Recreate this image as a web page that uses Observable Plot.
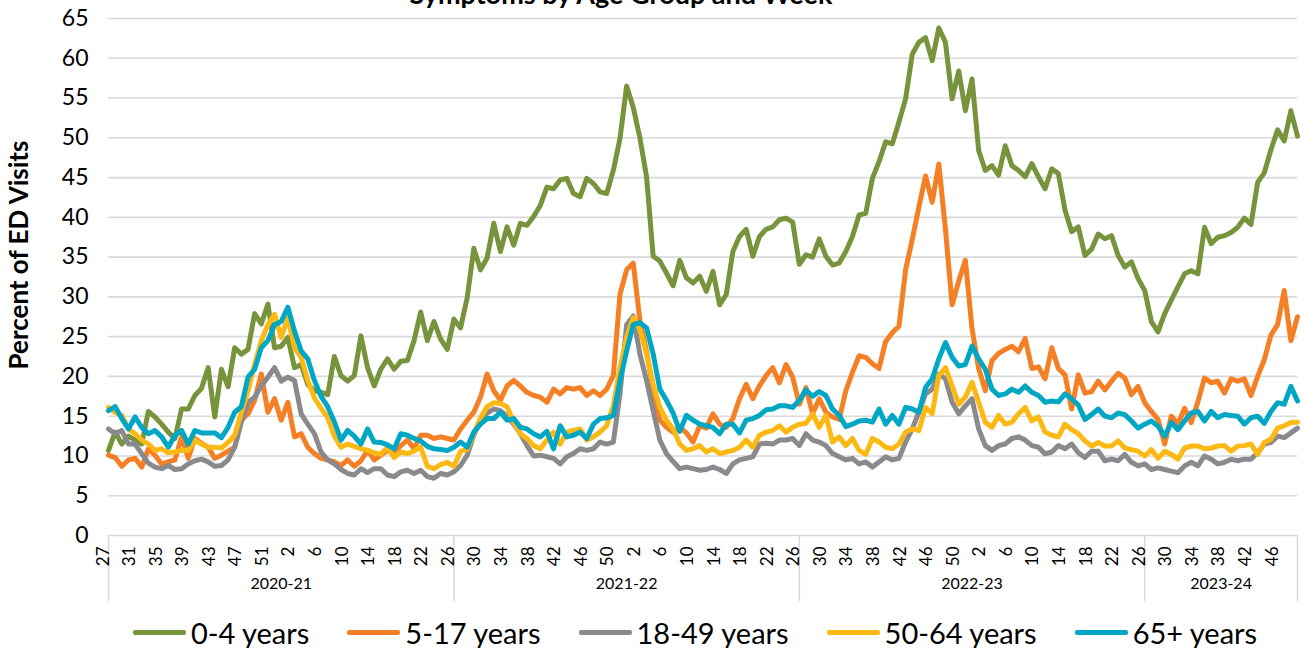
<!DOCTYPE html>
<html><head><meta charset="utf-8">
<script src="https://cdn.jsdelivr.net/npm/d3@7"></script>
<script src="https://cdn.jsdelivr.net/npm/@observablehq/plot@0.6"></script>
<style>
body{margin:0;background:#fff;font-family:Lato,"Open Sans",sans-serif;color:#000;}
#wrap{position:relative;width:1309px;height:648px;overflow:hidden;}
#chart{position:absolute;left:0;top:0;}
#title{position:absolute;left:0;width:1242px;top:-22px;line-height:1.2;text-align:center;font-weight:bold;font-size:27px;white-space:nowrap;}
#ylab{position:absolute;left:18px;top:255px;transform:translate(-50%,-50%) rotate(-90deg);font-weight:bold;font-size:26px;white-space:nowrap;}
#legend{position:absolute;top:612px;left:0;width:1390px;height:40px;display:flex;justify-content:center;align-items:center;gap:38px;font-size:29px;}
.item{display:flex;align-items:center;gap:5px;}
.sw{width:53px;height:5px;border-radius:2px;}
</style></head>
<body><div id="wrap">
<div id="chart"></div>
<div id="title">Symptoms by Age Group and Week</div>
<div id="ylab">Percent of ED Visits</div>
<div id="legend"></div>
</div>
<script>
const seasons = ["2020-21","2021-22","2022-23","2023-24"];
const seasonFirstWeek = [27,26,26,26];
const seasonYearWeeks = [53,52,52,52];
const seasonLength = [52,52,52,24];
const ageGroups = ["0-4 years","5-17 years","18-49 years","50-64 years","65+ years"];
const colors = ["#77933c","#f47f24","#8a8a8e","#fdb913","#00a7c4"];
const yTicks = [0,5,10,15,20,25,30,35,40,45,50,55,60,65];

const age0to4 = [10.7,13.0,11.5,12.5,12.0,11.5,15.6,14.9,14.0,13.0,12.2,15.9,15.9,17.6,18.5,21.1,14.9,20.9,18.7,23.6,22.8,23.4,27.9,26.6,29.1,23.6,23.8,24.9,21.1,21.5,
19.0,18.2,18.0,17.7,22.5,20.1,19.4,20.1,25.1,21.1,18.8,20.9,22.2,20.9,21.9,22.0,24.5,28.1,24.5,26.9,24.7,23.4,27.2,26.1,29.9,36.1,33.4,34.9,
39.25,35.7,38.8,36.5,39.25,39.0,40.1,41.5,43.8,43.6,44.7,44.9,43.0,42.6,44.9,44.25,43.2,43.0,45.9,49.9,56.5,53.8,50.0,45.1,35.1,34.5,33.0,
31.4,34.6,32.4,31.75,32.6,30.7,33.2,29.0,30.3,35.7,37.6,38.5,35.1,37.6,38.5,38.8,39.7,39.9,39.4,34.1,35.3,35.0,37.3,35.1,34.0,34.25,35.7,37.6,40.3,40.5,
44.9,47.0,49.5,49.25,52.0,54.9,60.5,62.0,62.6,59.7,63.8,62.0,54.9,58.4,53.4,57.4,48.4,45.9,46.5,45.3,49.0,46.5,45.9,45.1,46.75,45.1,43.6,46.1,45.5,40.9,38.2,38.8,
35.2,36.0,37.9,37.3,37.7,35.2,33.75,34.4,32.3,30.8,26.9,25.6,27.9,29.6,31.25,32.9,33.3,32.9,38.75,36.7,37.5,37.7,38.1,38.75,39.9,39.1,44.4,45.6,48.5,51.0,49.6,53.4,50.2];

const age5to17 = [10.1,9.8,8.7,9.5,9.7,8.6,10.9,10.1,9.0,9.25,9.5,12.4,9.7,12.2,11.6,11.1,9.7,10.1,10.6,11.1,14.5,15.3,17.0,20.3,15.5,17.2,14.5,16.75,12.4,12.8,
11.1,10.3,9.7,9.5,9.25,8.8,9.5,8.7,9.4,10.7,9.5,10.1,10.7,10.4,11.3,12.0,10.9,12.6,12.6,12.2,12.4,12.2,12.0,13.4,14.5,15.5,17.4,20.3,
18.2,17.0,18.8,19.5,18.8,18.0,17.6,17.4,16.75,18.4,17.8,18.6,18.4,18.6,17.6,18.2,17.6,18.4,20.1,30.3,33.4,34.25,27.0,23.2,18.2,14.5,13.6,
13.0,13.6,12.9,11.75,13.8,13.5,15.3,14.0,13.6,14.7,17.2,19.0,17.2,18.8,20.1,21.1,19.2,21.5,19.9,16.5,18.6,15.3,17.2,15.5,14.9,14.6,18.2,20.5,22.6,22.4,
21.6,21.0,24.4,25.5,26.3,33.4,37.2,41.3,45.2,41.9,46.7,38.5,29.0,32.0,34.6,26.0,21.0,18.2,22.0,22.9,23.4,23.8,23.1,24.8,21.0,21.2,19.7,23.6,21.0,20.2,15.9,20.2,
17.9,18.1,19.4,18.3,19.4,20.4,19.8,17.7,18.75,16.7,15.6,14.6,11.5,15.0,14.0,16.0,14.2,16.8,19.8,19.2,19.4,17.9,19.7,19.4,19.7,17.6,20.0,22.1,25.2,26.5,30.8,24.5,27.5];

const age18to49 = [13.4,12.8,13.2,11.5,11.5,10.3,9.1,8.6,8.4,8.8,8.3,8.4,9.0,9.4,9.6,9.25,8.7,8.8,9.5,11.1,14.25,16.75,17.4,18.8,19.9,21.1,19.4,19.9,19.5,15.3,
14.0,12.8,10.5,9.5,9.0,8.3,7.8,7.6,8.4,7.9,8.4,8.4,7.6,7.4,8.0,8.2,7.8,8.2,7.4,7.2,7.8,7.6,8.0,8.8,10.1,12.6,14.6,15.4,
15.9,15.7,15.0,14.0,12.8,11.3,10.0,10.1,9.9,9.7,9.0,9.9,10.3,10.9,10.7,10.9,11.75,11.5,11.75,17.8,26.5,27.6,22.8,19.5,15.7,12.0,10.3,
9.3,8.4,8.6,8.4,8.2,8.3,8.6,8.3,7.8,9.0,9.5,9.7,9.9,11.5,11.6,11.5,12.0,12.0,12.2,11.3,12.8,12.0,11.75,11.3,10.3,9.9,9.5,9.7,9.0,9.25,
8.6,9.25,9.9,9.5,9.7,11.75,13.4,15.5,17.8,18.4,20.3,19.7,16.75,15.3,16.3,17.2,13.4,11.3,10.7,11.3,11.5,12.2,12.4,12.0,11.3,11.1,10.25,10.5,11.3,10.9,11.5,10.4,
9.8,10.6,10.6,9.4,9.6,9.4,10.2,9.2,8.75,9.0,8.3,8.5,8.3,8.1,7.9,8.75,9.2,8.75,10.0,9.6,9.0,9.2,9.6,9.4,9.6,9.6,10.4,11.5,11.7,12.5,12.3,12.9,13.5];

const age50to64 = [16.1,15.5,15.1,13.4,12.8,12.0,11.5,10.7,10.9,10.4,10.5,10.7,10.7,12.0,11.5,11.1,11.1,11.0,11.7,12.6,15.5,18.2,21.5,24.5,26.5,27.8,24.9,27.4,23.6,22.4,
19.5,17.3,16.0,14.8,12.5,11.1,11.5,11.2,10.9,10.7,10.4,10.2,11.1,9.8,10.5,10.3,10.6,11.1,8.7,8.4,8.9,9.2,8.7,10.6,10.8,12.8,14.8,16.2,
16.7,16.6,16.2,14.25,12.8,12.2,11.3,10.9,12.0,13.0,11.5,13.0,13.2,13.4,12.0,12.4,13.0,13.8,16.3,21.1,24.9,27.4,25.9,22.8,19.0,16.1,14.5,
13.4,11.5,10.7,10.9,11.3,10.5,10.9,10.3,10.5,10.7,11.1,12.0,11.1,12.6,13.0,13.2,13.8,13.0,13.6,14.0,14.1,15.3,13.6,15.1,11.75,12.4,11.3,12.2,10.7,10.2,
12.2,11.75,11.1,10.9,11.5,13.0,13.4,13.2,16.1,15.3,20.1,21.1,18.8,16.5,17.4,19.25,16.75,14.25,13.6,15.1,14.0,14.25,15.3,16.1,14.4,14.9,13.0,12.6,12.4,14.0,13.3,12.8,
11.9,11.25,11.7,11.25,11.25,11.9,11.0,10.8,10.6,10.0,10.8,9.7,10.6,10.2,9.6,11.0,11.25,11.25,10.9,11.0,11.25,11.3,10.6,11.25,11.3,11.5,10.2,11.7,12.1,13.5,13.8,14.2,14.25];

const age65plus = [15.7,16.2,14.7,13.4,14.9,13.6,12.8,13.2,12.4,11.1,12.6,13.2,11.5,13.2,12.9,12.9,12.9,12.3,13.6,15.5,16.2,19.9,20.9,23.6,24.5,26.5,26.9,28.7,25.7,23.2,
22.2,19.5,17.5,16.2,14.3,12.0,13.2,12.5,11.5,13.4,11.75,11.7,11.4,10.9,12.8,12.6,12.2,11.9,11.2,10.9,10.8,10.7,11.1,11.75,11.1,13.0,14.0,14.7,
14.7,15.5,14.5,14.7,13.6,13.4,12.8,12.4,13.1,10.9,13.8,12.4,12.6,13.0,12.2,14.0,14.7,14.8,15.1,19.5,23.2,26.5,26.75,26.1,22.8,18.4,17.0,
15.4,13.1,15.1,14.5,14.0,13.8,13.6,12.8,14.0,14.0,12.9,14.5,14.7,15.1,15.8,15.9,16.3,16.3,16.1,17.0,18.3,17.5,18.1,17.6,15.9,15.1,13.7,14.0,14.4,14.5,
14.25,15.9,14.0,15.1,14.0,16.1,15.9,15.5,18.6,19.7,22.2,24.25,22.4,21.3,21.5,23.8,22.2,20.9,18.4,17.6,17.8,18.4,18.0,18.8,18.0,17.6,16.75,16.9,16.8,17.8,17.2,16.4,
14.6,15.2,15.9,15.0,14.8,15.4,15.2,14.4,13.5,14.0,14.4,13.75,12.5,14.2,13.3,14.4,15.4,15.6,14.4,15.6,14.8,15.2,15.1,15.0,14.0,14.8,15.0,14.1,15.6,16.7,16.5,18.75,16.9];

const seriesValues = [age0to4, age5to17, age18to49, age50to64, age65plus];

// week labels derived from season definitions
const weeks = [], seasonStart = [];
seasons.forEach((s, k) => {
  seasonStart.push(weeks.length);
  for (let j = 0; j < seasonLength[k]; j++) {
    let w = seasonFirstWeek[k] + j;
    if (w > seasonYearWeeks[k]) w -= seasonYearWeeks[k];
    weeks.push(w);
  }
});
const n = weeks.length;
const lastIdx = n - 1;

const rows = [];
seriesValues.forEach((vals, k) => vals.forEach((v, i) => rows.push({i, v, group: ageGroups[k]})));

const tickRows = weeks.map((w, i) => ({i, w})).filter(d => d.i % 4 === 0);
const seasonRows = seasons.map((s, k) => ({s, mid: (seasonStart[k] + Math.min(seasonStart[k] + seasonLength[k], lastIdx)) / 2}));
const bounds = [...seasonStart, lastIdx];

const chart = Plot.plot({
  width: 1309, height: 610,
  marginLeft: 108, marginRight: 12, marginTop: 18, marginBottom: 75,
  style: {fontFamily: "Lato, 'Open Sans', sans-serif", fontSize: "23px", color: "#000", background: "#fff"},
  x: {domain: [0, lastIdx], axis: null},
  y: {domain: [0, 65], ticks: yTicks, tickSize: 0, tickPadding: 20, label: null},
  color: {domain: ageGroups, range: colors},
  marks: [
    Plot.ruleY(yTicks, {stroke: "#d9d9d9", strokeWidth: 1.6}),
    Plot.ruleX(bounds, {y1: 0, y2: 0, insetBottom: -66, stroke: "#d9d9d9", strokeWidth: 1.6}),
    Plot.text(tickRows, {x: "i", text: "w", frameAnchor: "bottom", rotate: -90, textAnchor: "end", dy: 11, fontSize: 17}),
    Plot.text(seasonRows, {x: "mid", text: "s", frameAnchor: "bottom", dy: 53, fontSize: 16}),
    Plot.line(rows, {x: "i", y: "v", z: "group", stroke: "group", strokeWidth: 5, strokeLinejoin: "round", strokeLinecap: "round"})
  ]
});
document.getElementById("chart").appendChild(chart);

const legend = document.getElementById("legend");
ageGroups.forEach((g, k) => {
  const it = document.createElement("div"); it.className = "item";
  const sw = document.createElement("div"); sw.className = "sw"; sw.style.background = colors[k];
  const tx = document.createElement("span"); tx.textContent = g;
  it.appendChild(sw); it.appendChild(tx); legend.appendChild(it);
});
</script>
</body></html>
